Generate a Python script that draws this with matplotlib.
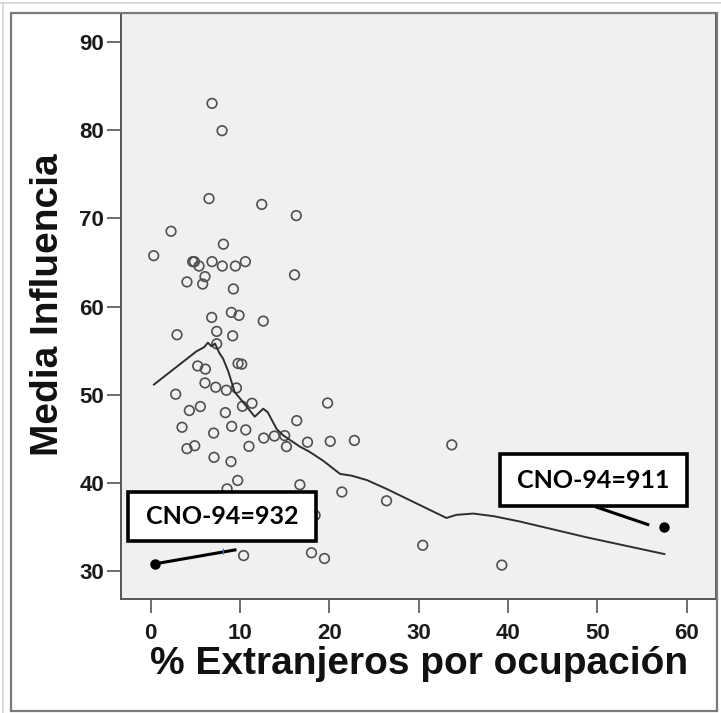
import matplotlib
matplotlib.use("Agg")
import matplotlib.pyplot as plt
from matplotlib.patches import Rectangle
from matplotlib.lines import Line2D

# ---- data ----
pct_extranjeros = [6.87, 7.99, 6.53, 12.43, 16.3, 2.28, 8.14, 0.34, 4.7, 4.9, 5.41,
                   6.87, 8.02, 9.48, 10.6, 16.1, 6.08, 4.06, 5.82, 9.26,
                   6.83, 9.03, 9.89, 12.6, 2.95, 7.39, 9.18, 7.39, 9.78, 10.19,
                   5.26, 6.12, 6.08, 7.28, 8.47, 9.6, 2.8, 10.27, 11.34, 4.33,
                   5.56, 8.36, 16.35, 3.51, 9.07, 10.64, 7.05, 12.65, 13.85, 15.0,
                   15.2, 17.55, 4.06, 4.93, 11.0, 7.09, 8.99, 9.74, 16.7, 8.55,
                   19.8, 20.1, 22.8, 33.7, 21.4, 26.4, 18.4, 10.4, 18.0, 19.45,
                   30.45, 39.3]
media_influencia = [83.07, 79.97, 72.26, 71.6, 70.33, 68.55, 67.08, 65.78, 65.1, 65.1, 64.6,
                    65.1, 64.6, 64.6, 65.1, 63.6, 63.4, 62.8, 62.56, 62.0,
                    58.77, 59.34, 59.0, 58.35, 56.8, 57.18, 56.68, 55.77, 53.54, 53.46,
                    53.26, 52.9, 51.33, 50.84, 50.5, 50.76, 50.05, 48.68, 49.02, 48.2,
                    48.65, 47.96, 47.05, 46.3, 46.4, 46.0, 45.64, 45.07, 45.3, 45.35,
                    44.1, 44.6, 43.87, 44.2, 44.13, 42.88, 42.4, 40.26, 39.77, 39.3,
                    49.05, 44.7, 44.8, 44.3, 38.95, 37.95, 36.3, 31.73, 32.05, 31.4,
                    32.9, 30.65]

loess_x = [0.37, 5.1, 6.0, 6.4, 6.8, 7.2, 7.7, 8.1, 8.7, 9.4, 10.3, 11.65, 12.6, 13.1,
           14.1, 14.8, 16.7, 17.8, 19.3, 21.2, 22.5, 24.2, 26.4, 33.1, 34.2, 36.1,
           38.4, 41.3, 48.8, 57.5]
loess_y = [51.15, 54.9, 55.4, 55.9, 55.5, 55.8, 54.7, 54.1, 52.6, 50.3, 49.2, 47.5, 48.4,
           48.0, 46.1, 45.4, 44.1, 43.5, 42.5, 41.0, 40.8, 40.3, 39.3, 36.0, 36.35,
           36.5, 36.2, 35.6, 33.8, 31.9]

# labelled cases
case_labels = ["CNO-94=932", "CNO-94=911"]
case_x = [0.52, 57.5]
case_y = [30.8, 35.0]
label_box_x0 = [-2.5, 39.1]
label_box_x1 = [18.5, 60.0]
label_box_y0 = [33.39, 37.37]
label_box_y1 = [38.99, 43.24]
leader_x0 = [0.52, 49.73]
leader_y0 = [30.8, 37.29]
leader_x1 = [9.6, 55.8]
leader_y1 = [32.4, 35.2]

x_ticks = [0, 10, 20, 30, 40, 50, 60]
y_ticks = [30, 40, 50, 60, 70, 80, 90]

# ---- figure ----
W, H = 721, 713
fig = plt.figure(figsize=(W / 100, H / 100), dpi=100)
fig.patch.set_facecolor("white")

# outer frames
fig.add_artist(Line2D([0, 1], [1 - 3 / H, 1 - 3 / H], transform=fig.transFigure,
                      color="#d4d4d4", lw=1.2))
fig.add_artist(Line2D([3 / W, 3 / W], [0, 1 - 3 / H], transform=fig.transFigure,
                      color="#d4d4d4", lw=1.2))
fig.add_artist(Rectangle((11 / W, 2 / H), (717 - 11) / W, (711 - 13) / H,
                         transform=fig.transFigure, fill=False,
                         edgecolor="#7a7a7a", lw=1.6))

ax = fig.add_axes([121 / W, 1 - 599 / H, (716 - 121) / W, (599 - 13) / H])
ax.set_facecolor("#f0f0f0")
ax.set_xlim(-3.32, 63.27)
ax.set_ylim(26.8, 93.33)

ax.scatter(pct_extranjeros, media_influencia, s=48, facecolors="none",
           edgecolors="#505050", linewidths=1.2, zorder=3)
ax.plot(loess_x, loess_y, color="#2e2e2e", lw=1.4, zorder=4)

for i in range(len(case_labels)):
    ax.plot([leader_x0[i], leader_x1[i]], [leader_y0[i], leader_y1[i]],
            color="black", lw=2.2, zorder=5, solid_capstyle="butt")
    ax.plot(case_x[i], case_y[i], "o", color="black", ms=6.5, zorder=6)
    ax.add_patch(Rectangle((label_box_x0[i], label_box_y0[i]),
                           label_box_x1[i] - label_box_x0[i],
                           label_box_y1[i] - label_box_y0[i],
                           facecolor="white", edgecolor="black", lw=2.6, zorder=7))
    ax.text((label_box_x0[i] + label_box_x1[i]) / 2, (label_box_y0[i] + label_box_y1[i]) / 2,
            case_labels[i], ha="center", va="center", fontsize=18,
            fontweight="bold", family="Lato", color="black", zorder=8)

# small blue tick on the first leader line
ax.plot(8.1, 32.2, marker="|", color="#4a6fd0", ms=5, mew=0.8, zorder=6)

for s in ax.spines.values():
    s.set_color("#555555")
    s.set_linewidth(1.4)

ax.set_xticks(x_ticks)
ax.set_yticks(y_ticks)
ax.tick_params(axis="both", direction="out", length=10, width=1.2, color="#555555",
               labelsize=16)
ax.tick_params(axis="x", pad=7)
ax.tick_params(axis="y", pad=2)
for lab in ax.get_xticklabels() + ax.get_yticklabels():
    lab.set_fontweight("bold")
    lab.set_family("Liberation Sans")
    lab.set_color("#1a1a1a")

fig.text(419 / W, 1 - 664 / H, "% Extranjeros por ocupación", ha="center", va="center",
         fontsize=28, fontweight="bold", family="Liberation Sans", color="#111111")
fig.text(48 / W, 1 - 305 / H, "Media Influencia", ha="center", va="center", rotation=90,
         fontsize=28, fontweight="bold", family="Liberation Sans", color="#111111")

fig.savefig("out.png", dpi=100, facecolor="white")
